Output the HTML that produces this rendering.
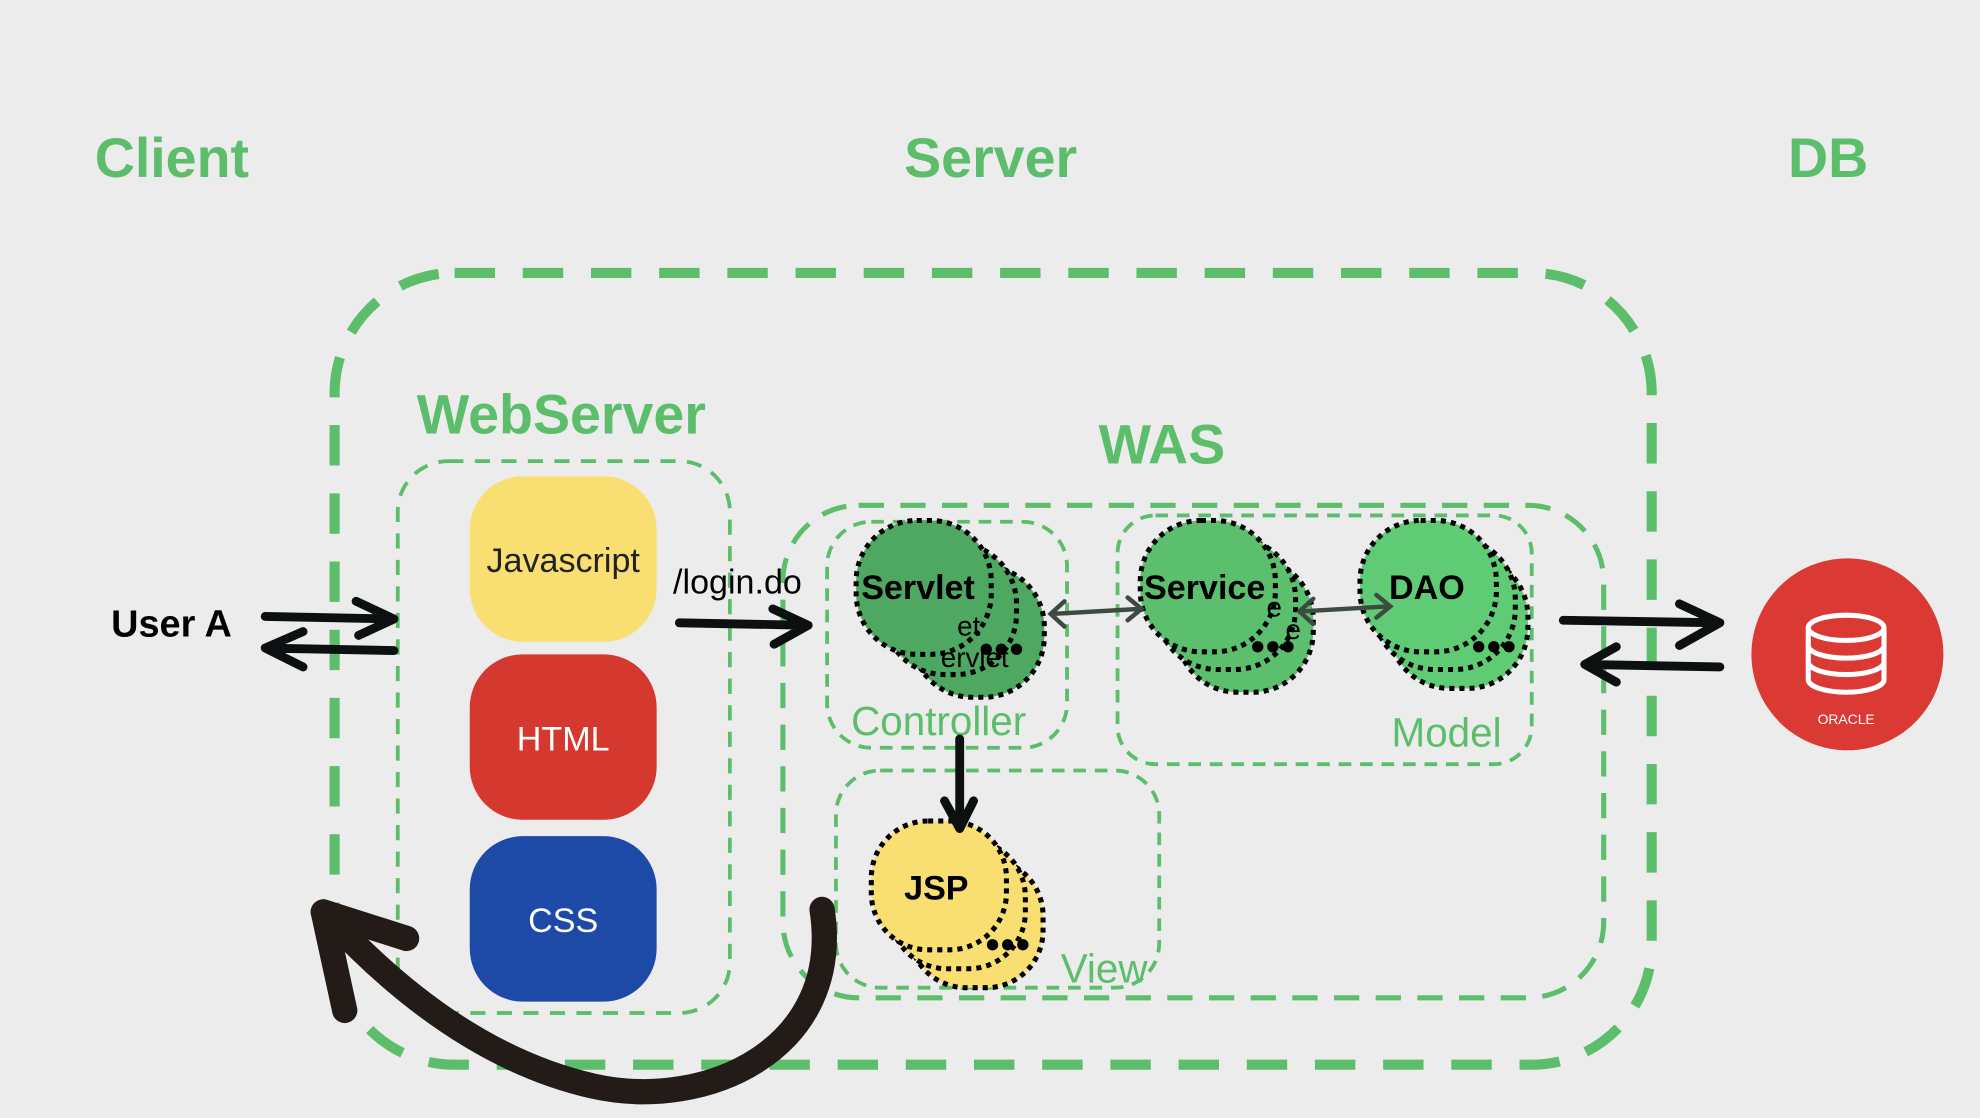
<!DOCTYPE html>
<html><head><meta charset="utf-8"><style>
html,body{margin:0;padding:0;background:#ececec;}
svg{display:block}
text{font-family:"Liberation Sans","DejaVu Sans",sans-serif;}
</style></head><body>
<svg width="1980" height="1118" viewBox="0 0 1568 885" xmlns="http://www.w3.org/2000/svg">
<rect width="1568" height="885" fill="#ececec"/>
<g fill="#5cbd6b" font-weight="bold" font-size="44">
<text x="75" y="140">Client</text>
<text x="716" y="140">Server</text>
<text x="1416" y="140">DB</text>
<text x="330" y="343">WebServer</text>
<text x="870" y="367">WAS</text>
</g>
<!-- outer server box -->
<rect x="265" y="216" width="1043" height="627" rx="95" fill="none" stroke="#5cbd6b" stroke-width="8" stroke-dasharray="32 22"/>
<!-- webserver box -->
<rect x="315" y="365" width="263" height="437" rx="40" fill="none" stroke="#5cbd6b" stroke-width="3" stroke-dasharray="12 9"/>
<!-- WAS -->
<rect x="620" y="400" width="650" height="390" rx="60" fill="none" stroke="#5cbd6b" stroke-width="4" stroke-dasharray="20 13"/>
<rect x="655" y="413" width="190" height="179" rx="35" fill="none" stroke="#5cbd6b" stroke-width="3" stroke-dasharray="10 7"/>
<rect x="885" y="408" width="328" height="197" rx="30" fill="none" stroke="#5cbd6b" stroke-width="3" stroke-dasharray="10 7"/>
<rect x="662" y="610" width="256" height="172" rx="35" fill="none" stroke="#5cbd6b" stroke-width="3" stroke-dasharray="10 7"/>
<g fill="#5cbd6b" font-size="32">
<text x="674" y="582">Controller</text>
<text x="1102" y="591">Model</text>
<text x="840" y="778">View</text>
</g>
<!-- web files -->
<rect x="372" y="377" width="148" height="131" rx="42" fill="#f9df72"/>
<rect x="372" y="518" width="148" height="131" rx="42" fill="#d5382f"/>
<rect x="372" y="662" width="148" height="131" rx="42" fill="#1e4aa7"/>
<g font-size="27" text-anchor="middle">
<text x="446" y="453" fill="#222">Javascript</text>
<text x="446" y="594" fill="#fff">HTML</text>
<text x="446" y="738" fill="#fff">CSS</text>
</g>
<!-- blobs -->
<g stroke="#000" stroke-width="4" stroke-dasharray="4 4">
<rect x="722" y="448" width="105" height="104" rx="48" fill="#4fa862"/>
<rect x="700" y="430" width="105" height="104" rx="48" fill="#4fa862"/>
<rect x="678" y="412" width="107" height="106" rx="48" fill="#4fa862"/>
<rect x="932" y="442" width="108" height="106" rx="48" fill="#5bbf6e"/>
<rect x="916" y="426" width="110" height="104" rx="48" fill="#5bbf6e"/>
<rect x="903" y="412" width="107" height="104" rx="48" fill="#5bbf6e"/>
<rect x="1100" y="440" width="110" height="105" rx="48" fill="#5fcb74"/>
<rect x="1088" y="426" width="112" height="104" rx="48" fill="#5fcb74"/>
<rect x="1077" y="412" width="108" height="104" rx="48" fill="#5fcb74"/>
<rect x="720" y="680" width="106" height="102" rx="45" fill="#f9df72"/>
<rect x="705" y="665" width="107" height="102" rx="45" fill="#f9df72"/>
<rect x="690" y="650" width="107" height="102" rx="45" fill="#f9df72"/>
</g>
<g fill="#000">
<circle cx="781" cy="514" r="4.5"/><circle cx="793" cy="514" r="4.5"/><circle cx="805" cy="514" r="4.5"/>
<circle cx="996" cy="512" r="4.5"/><circle cx="1008" cy="512" r="4.5"/><circle cx="1020" cy="512" r="4.5"/>
<circle cx="1171" cy="512" r="4.5"/><circle cx="1183" cy="512" r="4.5"/><circle cx="1195" cy="512" r="4.5"/>
<circle cx="786" cy="748" r="4.5"/><circle cx="798" cy="748" r="4.5"/><circle cx="810" cy="748" r="4.5"/>
</g>
<g font-weight="bold" font-size="27" fill="#000">
<text x="682" y="474">Servlet</text>
<text x="906" y="474">Service</text>
<text x="1100" y="474">DAO</text>
<text x="716" y="712">JSP</text>
</g>
<g font-size="22" fill="#000">
<text x="758" y="503">et</text>
<text x="745" y="528">ervlet</text>
<text x="1003" y="488">e</text>
<text x="1018" y="506">e</text>
</g>
<!-- double arrows in WAS -->
<g stroke="#3d4a42" stroke-width="3.5" fill="none" stroke-linecap="round">
<path d="M833 486 L903 482 M843 476 L832 486 L843 496 M893 473 L904 482 L893 491"/>
<path d="M1030 484 L1100 480 M1040 474 L1029 484 L1040 494 M1090 471 L1101 480 L1090 489"/>
</g>
<!-- black arrows -->
<g stroke="#0d1010" stroke-width="7" fill="none" stroke-linecap="round" stroke-linejoin="round">
<path d="M210 488 L312 490 M282 476 L312 490 L284 503"/>
<path d="M312 515 L210 513 L240 500 M210 513 L240 528"/>
<path d="M538 493 L640 495 M612 482 L640 495 L613 510"/>
<path d="M1238 491 L1362 493 M1330 478 L1362 493 L1330 511"/>
<path d="M1362 528 L1255 526 L1280 512 M1255 526 L1280 540"/>
<path d="M760 585 L760 655 M748 634 L760 656 L771 634"/>
</g>
<text x="533" y="470" font-size="27" fill="#000">/login.do</text>
<text x="88" y="504" font-size="30" font-weight="bold" fill="#000">User A</text>
<!-- big curved arrow -->
<g stroke="#231b18" fill="none" stroke-linecap="round" stroke-linejoin="round">
<path d="M651 720 C 668 830, 560 880, 470 860 C 390 842, 320 790, 262 728" stroke-width="20"/>
<path d="M256 722 L322 743" stroke-width="20"/>
<path d="M256 722 L273 800" stroke-width="20"/>
</g>
<!-- oracle -->
<circle cx="1463" cy="518" r="76" fill="#da3934"/>
<g stroke="#fff" stroke-width="4" fill="none">
<ellipse cx="1462" cy="497" rx="30" ry="10"/>
<path d="M1432 497 V538 A30 10 0 0 0 1492 538 V497"/>
<path d="M1432 511 A30 10 0 0 0 1492 511"/>
<path d="M1432 524 A30 10 0 0 0 1492 524"/>
</g>
<text x="1462" y="573" font-size="11" fill="#fff" text-anchor="middle">ORACLE</text>
</svg>
</body></html>
